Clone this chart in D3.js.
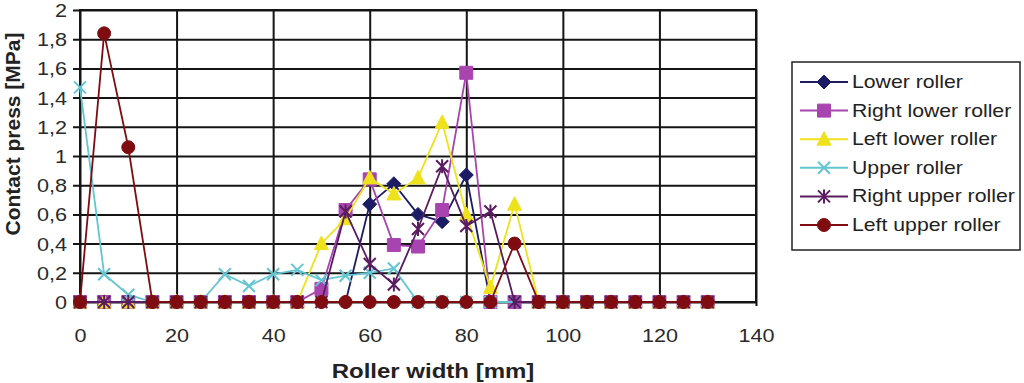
<!DOCTYPE html>
<html lang="en">
<head>
<meta charset="UTF-8"/>
<title>Contact press along roller width</title>
<script src="https://d3js.org/d3.v7.min.js"></script>
<style>
    body { margin: 0; background: #fff; }
    svg { display: block; font-family: "Liberation Sans", Arial, sans-serif; }
</style>
</head>
<body>
<script>
var w = 1024;
var h = 383;
var stretch = 1.2; // the source picture is widened, so text is too

// roller width [mm]
var widths = [0, 5, 10, 15, 20, 25, 30, 35, 40, 45, 50, 55, 60, 65, 70, 75, 80, 85, 90, 95, 100, 105, 110, 115, 120, 125, 130];

var lowerRoller      = [0, 0, 0, 0, 0, 0, 0, 0, 0, 0, 0, 0, 0.67, 0.81, 0.6, 0.55, 0.87, 0, 0, 0, 0, 0, 0, 0, 0, 0, 0];
var rightLowerRoller = [0, 0, 0, 0, 0, 0, 0, 0, 0, 0, 0.09, 0.63, 0.84, 0.39, 0.38, 0.63, 1.57, 0, 0, 0, 0, 0, 0, 0, 0, 0, 0];
var leftLowerRoller  = [0, 0, 0, 0, 0, 0, 0, 0, 0, 0, 0.4, 0.57, 0.85, 0.74, 0.85, 1.23, 0.6, 0.1, 0.67, 0, 0, 0, 0, 0, 0, 0, 0];
var upperRoller      = [1.47, 0.19, 0.05, 0, 0, 0, 0.19, 0.11, 0.19, 0.22, 0.15, 0.18, 0.2, 0.23, 0, 0, 0, 0, 0, 0, 0, 0, 0, 0, 0, 0, 0];
var rightUpperRoller = [0, 0, 0, 0, 0, 0, 0, 0, 0, 0, 0, 0.62, 0.26, 0.12, 0.5, 0.93, 0.52, 0.62, 0, 0, 0, 0, 0, 0, 0, 0, 0];
var leftUpperRoller  = [0, 1.84, 1.06, 0, 0, 0, 0, 0, 0, 0, 0, 0, 0, 0, 0, 0, 0, 0, 0.4, 0, 0, 0, 0, 0, 0, 0, 0];

var seriesNames = ["Lower roller", "Right lower roller", "Left lower roller", "Upper roller", "Right upper roller", "Left upper roller"];

var xTicks = [0, 20, 40, 60, 80, 100, 120, 140];
var yTicks = [0, 0.2, 0.4, 0.6, 0.8, 1, 1.2, 1.4, 1.6, 1.8, 2];

var series = [
    { name: seriesNames[0], values: lowerRoller,      color: "#1c1c64", marker: "diamond" },
    { name: seriesNames[1], values: rightLowerRoller, color: "#a844b0", marker: "square" },
    { name: seriesNames[2], values: leftLowerRoller,  color: "#eee21c", marker: "triangle" },
    { name: seriesNames[3], values: upperRoller,      color: "#62c6d2", marker: "cross" },
    { name: seriesNames[4], values: rightUpperRoller, color: "#5a1c60", marker: "star" },
    { name: seriesNames[5], values: leftUpperRoller,  color: "#7e0c10", marker: "circle" }
];

var x = d3.scaleLinear().domain([0, 140]).range([80, 756]);
var y = d3.scaleLinear().domain([0, 2]).range([302, 10]);

var svg = d3.select("body").append("svg")
    .attr("width", w)
    .attr("height", h);

svg.append("rect").attr("width", w).attr("height", h).attr("fill", "#fff");

// grid lines (the axes themselves, drawn across the plot)
var yAxis = svg.append("g")
    .attr("transform", "translate(80,0)")
    .call(d3.axisLeft(y).tickValues(yTicks).tickSize(-676).tickPadding(0)
        .tickFormat(function (d) { return String(d).replace(".", ","); }));
yAxis.select(".domain").remove();
yAxis.selectAll("line").attr("x1", -7).attr("stroke", "#151515").attr("stroke-width", 2);
yAxis.selectAll("text")
    .attr("x", null).attr("dy", "0.36em")
    .attr("transform", "translate(-13,0) scale(" + stretch + ",1)")
    .attr("font-size", 18)
    .attr("fill", "#2a2a2a");

var xAxis = svg.append("g")
    .attr("transform", "translate(0,302)")
    .call(d3.axisBottom(x).tickValues(xTicks).tickSize(-292).tickPadding(0));
xAxis.select(".domain").remove();
xAxis.selectAll("line").attr("y1", 4).attr("stroke", "#151515").attr("stroke-width", 2);
xAxis.selectAll("text")
    .attr("y", null).attr("dy", null)
    .attr("transform", "translate(0,40) scale(" + stretch + ",1)")
    .attr("font-size", 18)
    .attr("fill", "#2a2a2a");

svg.append("rect")
    .attr("x", 80).attr("y", 10)
    .attr("width", 676).attr("height", 292)
    .attr("fill", "none")
    .attr("stroke", "#151515")
    .attr("stroke-width", 2);

// axis titles
svg.append("text")
    .attr("transform", "translate(433,378) scale(" + stretch + ",1)")
    .attr("text-anchor", "middle")
    .attr("font-size", 20)
    .attr("font-weight", "bold")
    .attr("fill", "#222")
    .text("Roller width [mm]");

svg.append("text")
    .attr("transform", "translate(20,134) rotate(-90)")
    .attr("text-anchor", "middle")
    .attr("font-size", 21)
    .attr("font-weight", "bold")
    .attr("fill", "#222")
    .text("Contact press [MPa]");

// marker shapes, in the style of old spreadsheet charts
function markerPath(type) {
    var p = d3.path();
    if (type == "diamond") {
        p.moveTo(0, -7); p.lineTo(7, 0); p.lineTo(0, 7); p.lineTo(-7, 0); p.closePath();
    } else if (type == "square") {
        p.rect(-6.5, -6.5, 13, 13);
    } else if (type == "triangle") {
        p.moveTo(0, -7.5); p.lineTo(7, 6); p.lineTo(-7, 6); p.closePath();
    } else if (type == "cross") {
        p.moveTo(-6, -6); p.lineTo(6, 6); p.moveTo(6, -6); p.lineTo(-6, 6);
    } else if (type == "star") {
        p.moveTo(-6, -6); p.lineTo(6, 6); p.moveTo(6, -6); p.lineTo(-6, 6);
        p.moveTo(0, -7); p.lineTo(0, 7);
    } else {
        p.arc(0, 0, 6.5, 0, 2 * Math.PI);
    }
    return p.toString();
}

function drawMarker(sel, s) {
    var open = (s.marker == "cross" || s.marker == "star");
    sel.attr("d", markerPath(s.marker))
        .attr("fill", open ? "none" : s.color)
        .attr("stroke", s.color)
        .attr("stroke-width", open ? 2 : 1);
}

var line = d3.line()
    .x(function (d, i) { return x(widths[i]); })
    .y(function (d) { return y(d); });

series.forEach(function (s) {
    var g = svg.append("g");
    g.append("path")
        .datum(s.values)
        .attr("d", line)
        .attr("fill", "none")
        .attr("stroke", s.color)
        .attr("stroke-width", 1.8);
    g.selectAll("path.mk")
        .data(s.values)
        .enter()
        .append("path")
        .attr("class", "mk")
        .attr("transform", function (d, i) { return "translate(" + x(widths[i]) + "," + y(d) + ")"; })
        .call(drawMarker, s);
});

// legend
var legend = svg.append("g");
legend.append("rect")
    .attr("x", 792).attr("y", 62)
    .attr("width", 228).attr("height", 188)
    .attr("fill", "#fff")
    .attr("stroke", "#222")
    .attr("stroke-width", 1.5);

series.forEach(function (s, i) {
    var ly = 82 + i * 28.6;
    legend.append("line")
        .attr("x1", 800).attr("x2", 848)
        .attr("y1", ly).attr("y2", ly)
        .attr("stroke", s.color)
        .attr("stroke-width", 2);
    legend.append("path")
        .attr("transform", "translate(824," + ly + ")")
        .call(drawMarker, s);
    legend.append("text")
        .attr("transform", "translate(852," + (ly + 6) + ") scale(1.18,1)")
        .attr("font-size", 18)
        .attr("fill", "#222")
        .text(s.name);
});
</script>
</body>
</html>
